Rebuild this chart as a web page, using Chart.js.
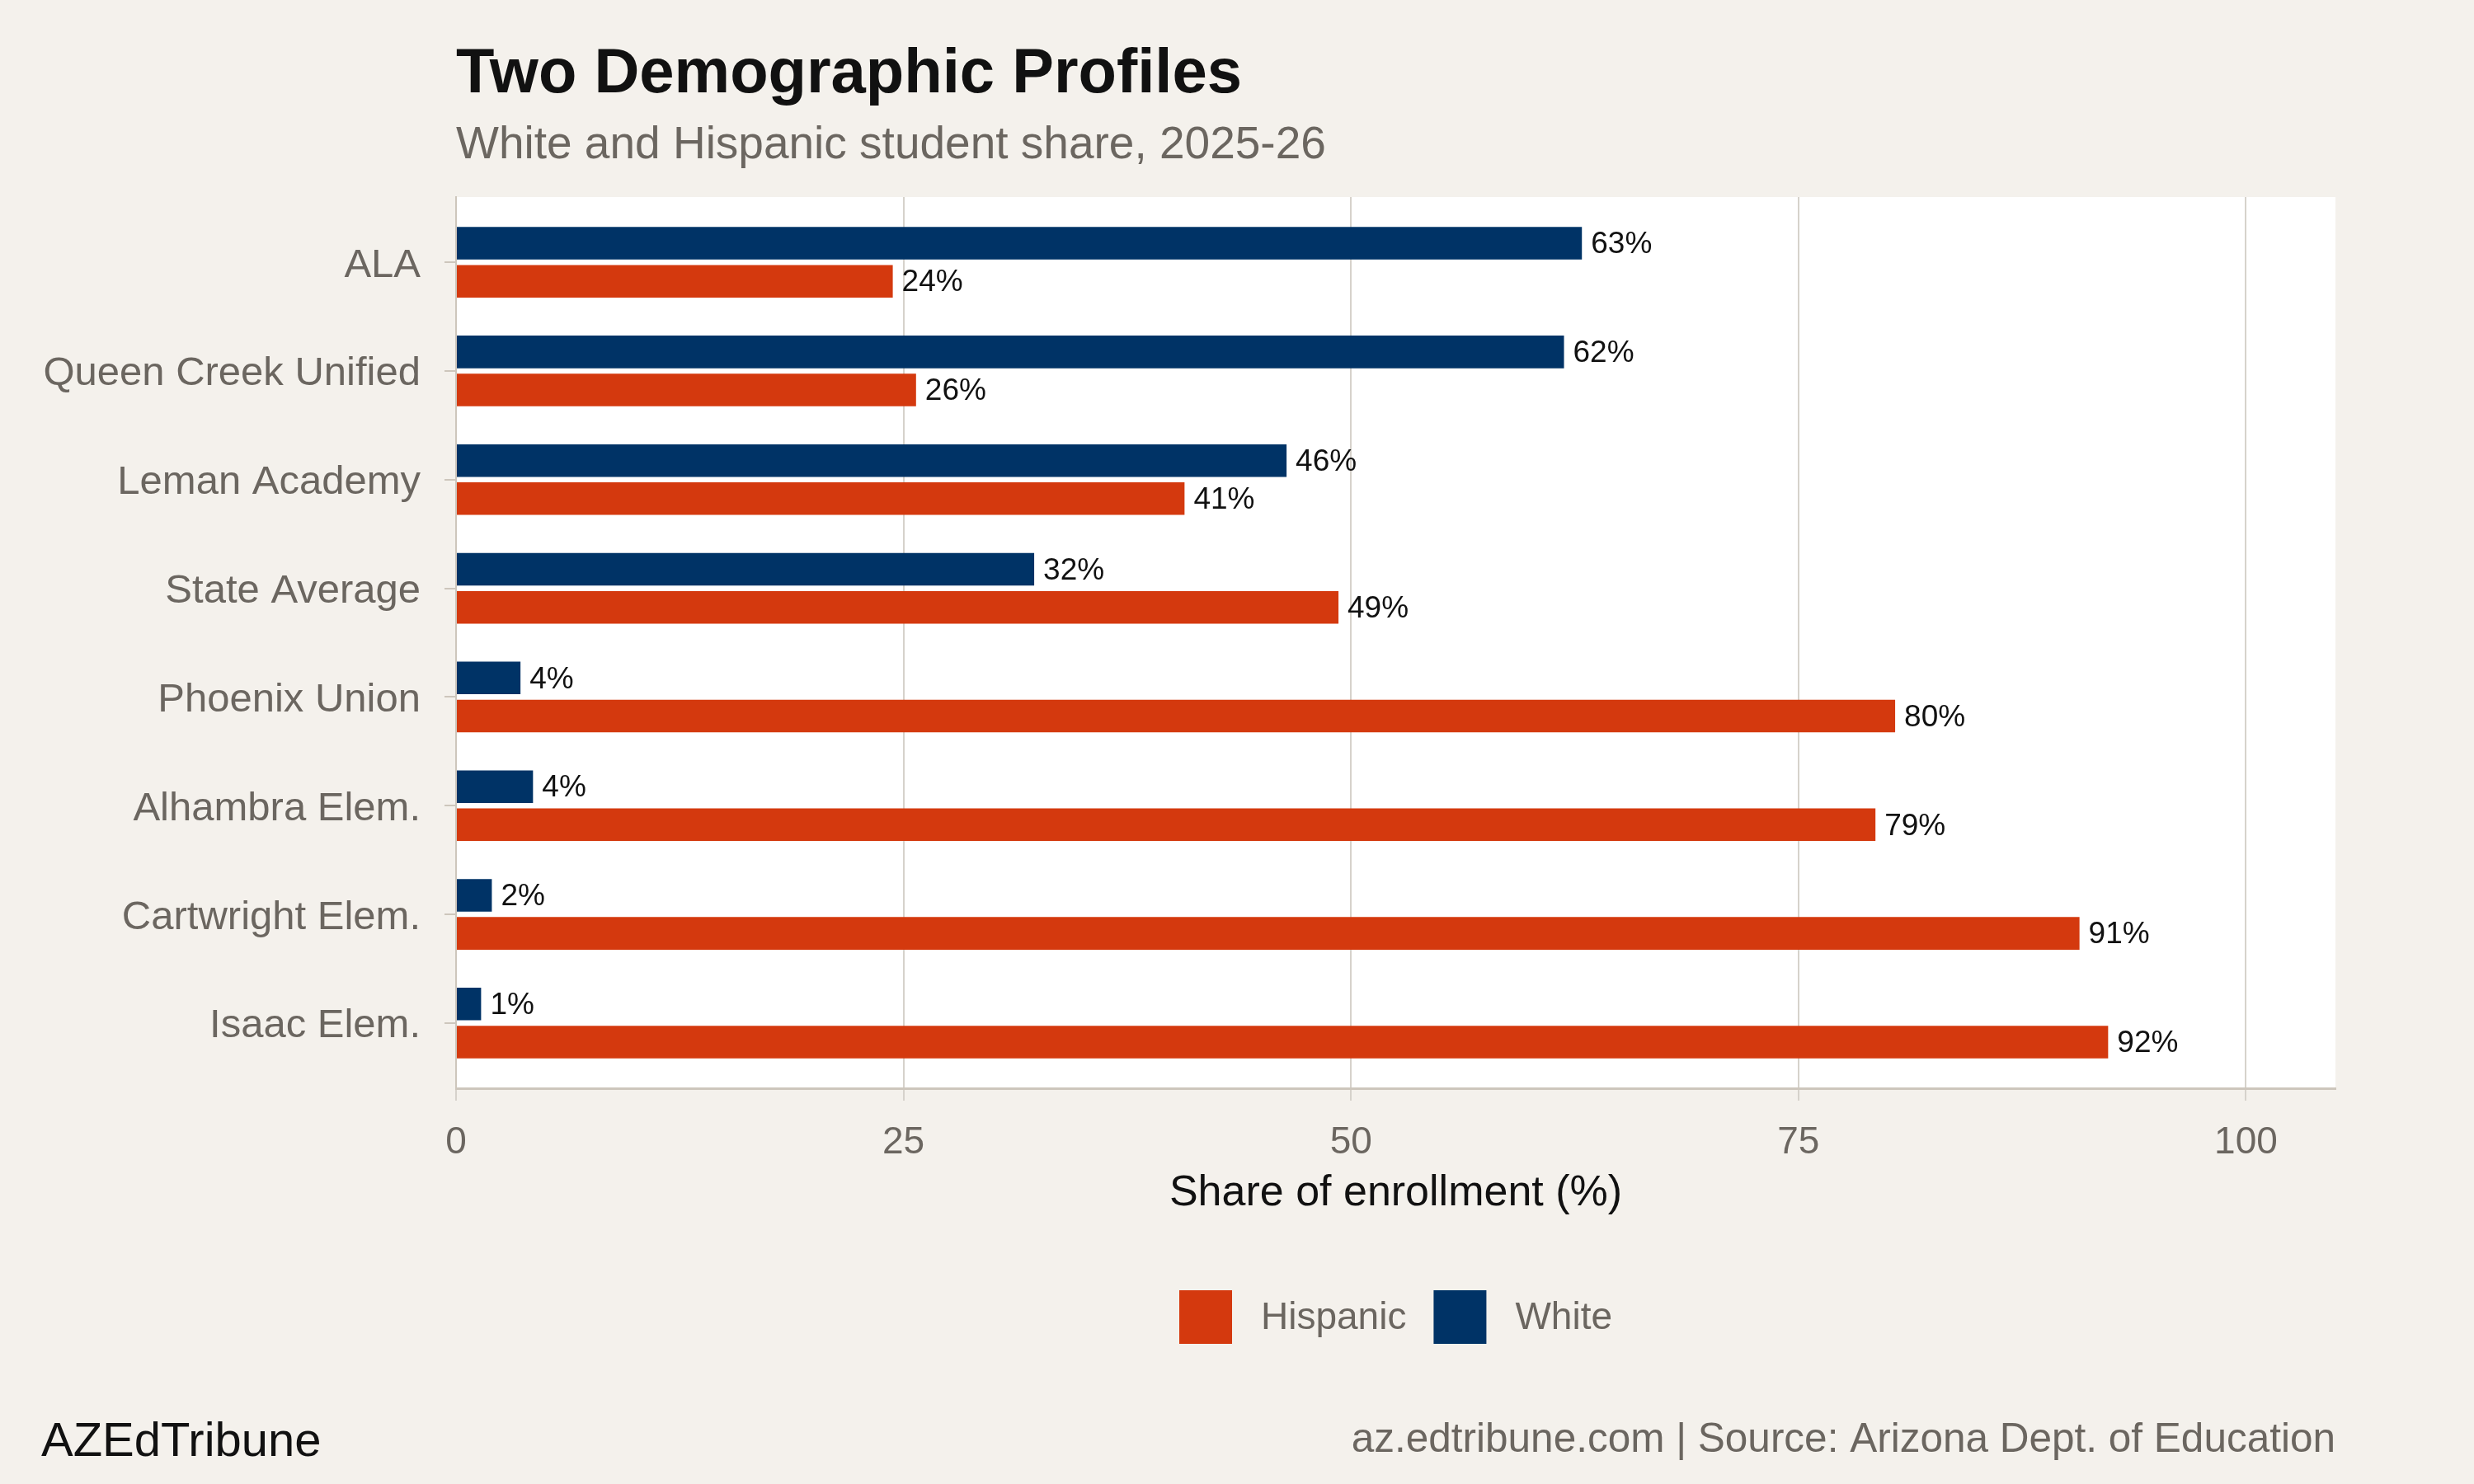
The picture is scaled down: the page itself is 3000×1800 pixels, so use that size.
<!DOCTYPE html>
<html>
<head>
<meta charset="utf-8">
<script src="https://cdn.jsdelivr.net/npm/chart.js@4.4.1/dist/chart.umd.min.js"></script>
<style>
  html, body { margin: 0; padding: 0; background: #f4f1ec; }
  #wrap { width: 3000px; height: 1800px; }
</style>
</head>
<body>
<div id="wrap"><canvas id="chart" width="3000" height="1800"></canvas></div>
<script>
// values
const categories = ["ALA", "Queen Creek Unified", "Leman Academy", "State Average",
  "Phoenix Union", "Alhambra Elem.", "Cartwright Elem.", "Isaac Elem."];
const whiteShare = [62.9, 61.9, 46.4, 32.3, 3.6, 4.3, 2.0, 1.4];
const hispanicShare = [24.4, 25.7, 40.7, 49.3, 80.4, 79.3, 90.7, 92.3];
const xTicks = [0, 25, 50, 75, 100];
const legendOrder = ["Hispanic", "White"];

const FONT = '"Liberation Sans", Arial, sans-serif';
const GRAY = "#6b6660";
const colors = { White: "#003366", Hispanic: "#d4390e" };

Chart.defaults.font.family = FONT;

const pagePlugin = {
  id: "page",
  beforeDraw(chart) {
    const { ctx, chartArea: a } = chart;
    ctx.save();
    ctx.fillStyle = "#f4f1ec";
    ctx.fillRect(0, 0, chart.width, chart.height);
    ctx.fillStyle = "#ffffff";
    ctx.fillRect(a.left, a.top, a.right - a.left, a.bottom - a.top);
    ctx.restore();
  },
  afterDatasetsDraw(chart) {
    const ctx = chart.ctx;
    ctx.save();
    ctx.font = "37px " + FONT;
    ctx.fillStyle = "#111";
    ctx.textBaseline = "middle";
    ctx.textAlign = "left";
    chart.data.datasets.forEach((ds, di) => {
      chart.getDatasetMeta(di).data.forEach((bar, i) => {
        ctx.fillText(Math.round(ds.data[i].x) + "%", bar.x + 11, bar.y + 2);
      });
    });
    ctx.restore();
  },
  afterDraw(chart) {
    const { ctx, chartArea: a } = chart;
    ctx.save();
    // titles
    ctx.textAlign = "left";
    ctx.textBaseline = "alphabetic";
    ctx.fillStyle = "#111";
    ctx.font = "bold 76px " + FONT;
    ctx.fillText("Two Demographic Profiles", a.left, 112);
    ctx.fillStyle = GRAY;
    ctx.font = "55px " + FONT;
    ctx.fillText("White and Hispanic student share, 2025-26", a.left, 192);

    // legend
    ctx.font = "46px " + FONT;
    const box = 64, gapText = 35, gapItem = 33;
    let total = 0;
    legendOrder.forEach((name, i) => {
      total += box + gapText + ctx.measureText(name).width + (i ? gapItem : 0);
    });
    let x = (a.left + a.right) / 2 - total / 2;
    const y = 1565;
    legendOrder.forEach((name) => {
      ctx.fillStyle = colors[name];
      ctx.fillRect(x, y, box, 65);
      x += box + gapText;
      ctx.fillStyle = GRAY;
      ctx.textBaseline = "middle";
      ctx.fillText(name, x, y + 34);
      x += ctx.measureText(name).width + gapItem;
    });

    // captions
    ctx.textBaseline = "alphabetic";
    ctx.fillStyle = "#111";
    ctx.font = "58px " + FONT;
    ctx.fillText("AZEdTribune", 50, 1766);
    ctx.textAlign = "right";
    ctx.fillStyle = GRAY;
    ctx.font = "49.5px " + FONT;
    ctx.fillText("az.edtribune.com | Source: Arizona Dept. of Education", a.right, 1761);
    ctx.restore();
  }
};

new Chart(document.getElementById("chart"), {
  type: "bar",
  data: {
    datasets: [
      {
        label: "White",
        data: whiteShare.map((v, i) => ({ x: v, y: i })),
        backgroundColor: colors.White,
      },
      {
        label: "Hispanic",
        data: hispanicShare.map((v, i) => ({ x: v, y: i })),
        backgroundColor: colors.Hispanic,
      },
    ],
  },
  options: {
    indexAxis: "y",
    responsive: false,
    devicePixelRatio: 1,
    animation: false,
    categoryPercentage: 0.7,
    barPercentage: 0.857,
    layout: { padding: { top: 239, right: 168, bottom: 321, left: 0 } },
    plugins: { legend: { display: false }, tooltip: { enabled: false } },
    scales: {
      x: {
        type: "linear",
        position: "bottom",
        min: 0,
        max: 105,
        afterBuildTicks: (s) => { s.ticks = xTicks.map((v) => ({ value: v })); },
        afterFit: (s) => { s.height = 159; },
        grid: { color: "#d6d2cb", lineWidth: 2, tickLength: 15, tickColor: "#d6d2cb" },
        border: { display: true, color: "#cdc6bc", width: 3 },
        ticks: { font: { size: 46 }, color: GRAY, padding: 24, maxRotation: 0 },
        title: { display: true, text: "Share of enrollment (%)", font: { size: 52 }, color: "#111", padding: 0 },
      },
      y: {
        type: "linear",
        reverse: true,
        offset: false,
        min: -0.6,
        max: 7.6,
        afterBuildTicks: (s) => { s.ticks = categories.map((c, i) => ({ value: i })); },
        afterFit: (s) => { s.width = 553; },
        grid: { offset: false, drawOnChartArea: false, tickLength: 14, tickColor: "#cdc6bc", lineWidth: 2 },
        border: { display: true, color: "#cdc6bc", width: 2 },
        ticks: { font: { size: 49 }, color: GRAY, padding: 29, labelOffset: 4, callback: (v) => categories[v] },
      },
    },
  },
  plugins: [pagePlugin],
});
</script>
</body>
</html>
